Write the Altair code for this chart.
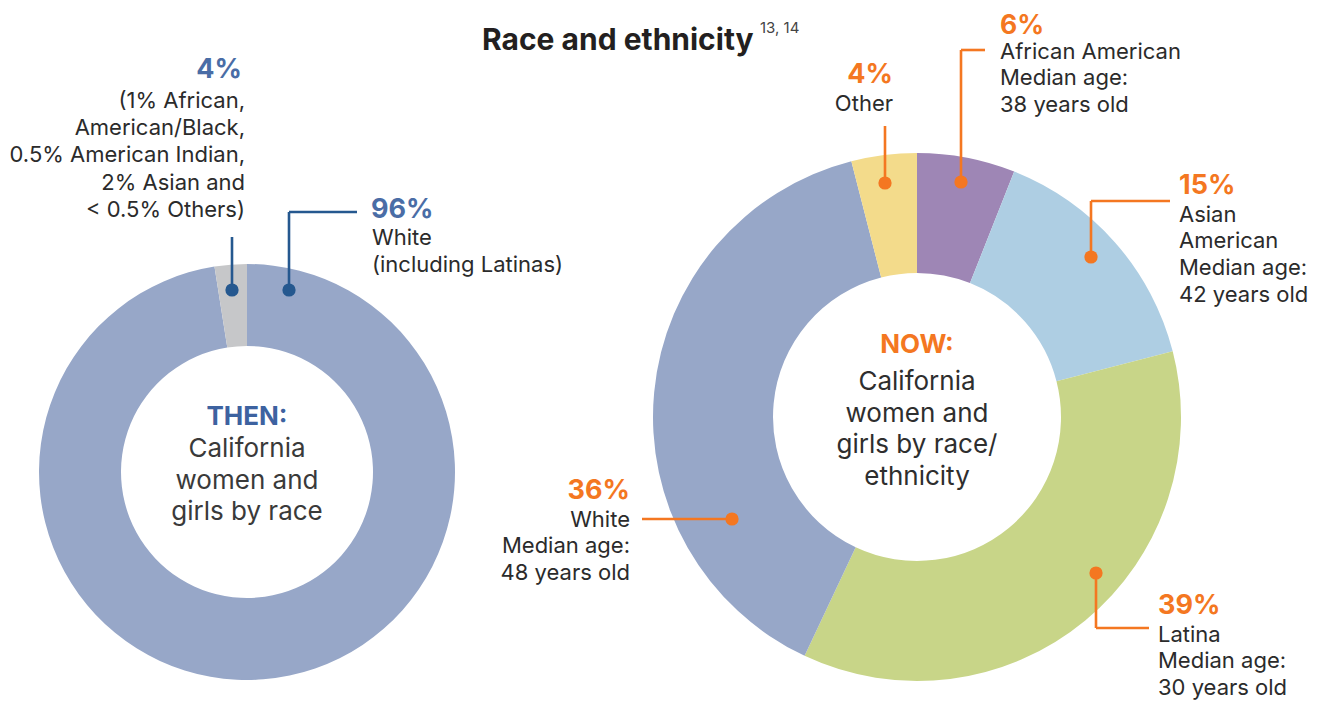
import altair as alt
import pandas as pd

# ------------------------------------------------------------------ data
# THEN donut (slice shares as drawn in the picture; labels as printed)
then_groups = ["White (including Latinas)", "All others"]
then_shares = [97.5, 2.5]
then_colors = ["#97A7C8", "#C6C7C9"]
then_pct_labels = ["96%", "4%"]
then_white_text = ["White", "(including Latinas)"]
then_other_text = ["(1% African,", "American/Black,", "0.5% American Indian,",
                   "2% Asian and", "< 0.5% Others)"]
then_center = ["THEN:", "California", "women and", "girls by race"]

# NOW donut (clockwise from 12 o'clock, shares as drawn)
now_groups = ["African American", "Asian American", "Latina", "White", "Other"]
now_shares = [6, 15, 36, 39, 4]
now_colors = ["#9E86B5", "#AECEE3", "#C8D588", "#97A7C8", "#F3DB8B"]
now_pct_labels = ["6%", "15%", "39%", "36%", "4%"]
now_name_lines = [["African American"], ["Asian", "American"], ["Latina"],
                  ["White"], ["Other"]]
now_median_age = ["38", "42", "30", "48", ""]
now_center = ["NOW:", "California", "women and", "girls by race/", "ethnicity"]

title_text = "Race and ethnicity"
title_sup = "13, 14"

# ------------------------------------------------------------------ style / layout
FONT = "Inter"
OFF = 8  # page margin
BLUE_TXT = "#4A6DA6"
BLUE_LINE = "#25588F"
ORANGE = "#F47721"
DARK = "#2B2B2B"
BODY = 22
PCT = 27
STEP = 26.8
CENTER = 26

THEN_C = (247, 472)
THEN_R = (208, 126)
NOW_C = (917, 417)
NOW_R = (264, 144)


def P(v):
    return v - OFF


def text_layer(lines, x, y0, align, size, weight, color, step=STEP):
    df = pd.DataFrame({
        "t": lines,
        "x": [P(x)] * len(lines),
        "y": [P(y0) + i * step for i in range(len(lines))],
    })
    return alt.Chart(df).mark_text(
        align=align, baseline="alphabetic", fontSize=size,
        fontWeight=weight, color=color, font=FONT
    ).encode(
        x=alt.X("x:Q", scale=None, axis=None),
        y=alt.Y("y:Q", scale=None, axis=None),
        text="t:N",
    )


def donut(groups, shares, colors, center, radii):
    df = pd.DataFrame({"group": groups, "share": shares, "color": colors,
                       "order": list(range(len(groups)))})
    return alt.Chart(df).mark_arc(radius=radii[0], radius2=radii[1]).encode(
        theta=alt.Theta("share:Q", stack=True),
        order=alt.Order("order:Q"),
        color=alt.Color("color:N", scale=None),
        x=alt.value(P(center[0])),
        y=alt.value(P(center[1])),
        tooltip=["group:N", "share:Q"],
    )


layers = []
layers.append(donut(then_groups, then_shares, then_colors, THEN_C, THEN_R))
layers.append(donut(now_groups, now_shares, now_colors, NOW_C, NOW_R))

# leader lines: first point carries the dot
leaders = [
    ([(232, 290), (232, 237)], BLUE_LINE),
    ([(289, 290), (289, 212), (357, 212)], BLUE_LINE),
    ([(885, 183), (885, 126)], ORANGE),
    ([(961, 182), (961, 50), (985, 50)], ORANGE),
    ([(1091, 257), (1091, 201), (1170, 201)], ORANGE),
    ([(732, 519), (642, 519)], ORANGE),
    ([(1096, 573), (1096, 628), (1149, 628)], ORANGE),
]
seg_rows = []
dot_rows = []
for pts, col in leaders:
    for (x1, y1), (x2, y2) in zip(pts[:-1], pts[1:]):
        seg_rows.append({"x": P(x1), "y": P(y1), "x2": P(x2), "y2": P(y2), "c": col})
    dot_rows.append({"x": P(pts[0][0]), "y": P(pts[0][1]), "c": col})
seg_df = pd.DataFrame(seg_rows)
dot_df = pd.DataFrame(dot_rows)

layers.append(alt.Chart(seg_df).mark_rule(strokeWidth=2.6).encode(
    x=alt.X("x:Q", scale=None, axis=None), y=alt.Y("y:Q", scale=None, axis=None),
    x2="x2:Q", y2="y2:Q", color=alt.Color("c:N", scale=None)))
layers.append(alt.Chart(dot_df).mark_circle(size=175, opacity=1).encode(
    x=alt.X("x:Q", scale=None, axis=None), y=alt.Y("y:Q", scale=None, axis=None),
    color=alt.Color("c:N", scale=None)))

# title
layers.append(text_layer([title_text], 482, 50, "left", 30, "bold", "#231F20"))
layers.append(text_layer([title_sup], 760, 33, "left", 15, "normal", "#444444"))

# THEN labels
layers.append(text_layer([then_pct_labels[1]], 242, 78, "right", PCT, "bold", BLUE_TXT))
layers.append(text_layer(then_other_text, 245, 108, "right", BODY, "normal", DARK, step=27.2))
layers.append(text_layer([then_pct_labels[0]], 371, 218, "left", PCT, "bold", BLUE_TXT))
layers.append(text_layer(then_white_text, 372, 245, "left", BODY, "normal", DARK))

# THEN center
layers.append(text_layer(then_center[:1], 247, 425, "center", CENTER, "bold", "#3D62A0"))
layers.append(text_layer(then_center[1:], 247, 457, "center", CENTER, "normal", "#3A3A3A", step=31.7))

# NOW center
layers.append(text_layer(now_center[:1], 917, 353, "center", CENTER, "bold", ORANGE))
layers.append(text_layer(now_center[1:], 917, 390, "center", CENTER, "normal", "#2E2E2E", step=31.7))

# NOW labels: (index, anchor x, pct baseline, body baseline, align, pct size)
now_label_pos = {
    0: (1000, 34, 58.5, "left", 26.5),
    1: (1179, 194, 221.5, "left", PCT),
    2: (1158, 614, 641.5, "left", PCT),
    3: (630, 499, 526.5, "right", PCT),
    4: (893, 83, 110.5, "right", PCT),
}
for i, (x, y, yb, al, ps) in now_label_pos.items():
    layers.append(text_layer([now_pct_labels[i]], x, y, al, ps, "bold", ORANGE))
    body = list(now_name_lines[i])
    if now_median_age[i]:
        body += ["Median age:", f"{now_median_age[i]} years old"]
    layers.append(text_layer(body, x, yb, al, BODY, "normal", DARK))

chart = alt.layer(*layers).properties(
    width=1322, height=695,
    autosize=alt.AutoSizeParams(type="none"),
    padding=0,
).configure_view(stroke=None)

chart.save("out.html", embed_options={"renderer": "svg", "actions": False})
